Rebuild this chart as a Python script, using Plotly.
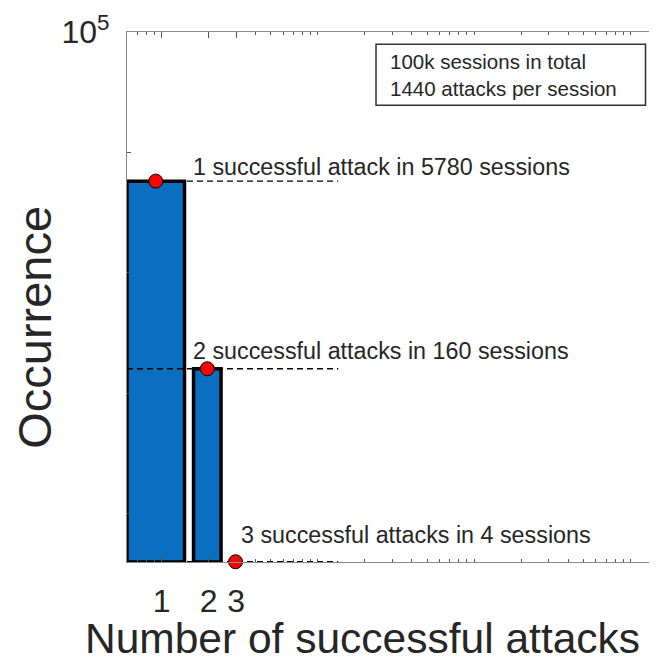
import math
import plotly.graph_objects as go

# ---- data ----
attacks = [1, 2, 3]
sessions = [5780, 160, 4]
labels = [
    "1 successful attack in 5780 sessions",
    "2 successful attacks in 160 sessions",
    "3 successful attacks in 4 sessions",
]
x_tick_vals = [1, 2, 3]
x_tick_text = ["1", "2", "3"]
y_tick_vals = [1e5]
y_tick_text = ["10<sup>5</sup>"]
y_minor_vals = [1e1, 1e2, 1e3, 1e4]
info_lines = ["100k sessions in total", "1440 attacks per session"]
x_title = "Number of successful attacks"
y_title = "Occurrence"

# ---- styling / layout constants ----
X_MIN, X_MAX = 0.6, 1440
LOG_Y_MIN, LOG_Y_MAX = 0.6, 5.0
Y_BOTTOM = 10 ** LOG_Y_MIN
HALF = 0.4
DASH_END = 13.5
label_x = [1.55, 1.55, 3.15]
label_shift = [-1, 3, 12]
FONT = "Liberation Sans, Arial, sans-serif"
TXT = "#262626"
BLUE = "#0b6fc1"

fig = go.Figure()

for n, v in zip(attacks, sessions):
    if v <= Y_BOTTOM * 1.01:
        continue
    fig.add_trace(go.Scatter(
        x=[n - HALF, n - HALF, n + HALF, n + HALF, n - HALF],
        y=[Y_BOTTOM, v, v, Y_BOTTOM, Y_BOTTOM],
        mode="lines", fill="toself", fillcolor=BLUE,
        line=dict(color="black", width=3.5), hoverinfo="skip", showlegend=False,
    ))

for n, v in zip(attacks, sessions):
    fig.add_trace(go.Scatter(
        x=[X_MIN, DASH_END], y=[v, v], mode="lines",
        line=dict(color="black", width=1.4, dash="6px,4px"),
        hoverinfo="skip", showlegend=False,
    ))

dot_x = [math.sqrt((n - HALF) * (n + HALF)) for n in attacks]
fig.add_trace(go.Scatter(
    x=dot_x, y=sessions, mode="markers", cliponaxis=False,
    marker=dict(size=14, color="#ff0000", line=dict(color="black", width=1)),
    showlegend=False,
))

for lx, v, t, s in zip(label_x, sessions, labels, label_shift):
    fig.add_annotation(x=math.log10(lx), y=math.log10(v), xref="x", yref="y",
                       text=t, showarrow=False, xanchor="left", yanchor="bottom",
                       yshift=s, font=dict(size=23.3, color=TXT, family=FONT))

# info box
fig.add_shape(type="rect", xref="paper", yref="paper",
              x0=0.4716, x1=0.982, y0=0.862, y1=0.977,
              line=dict(color="#333333", width=1.5), fillcolor="white")
fig.add_annotation(xref="paper", yref="paper", x=0.494, y=0.918,
                   text="<br>".join(info_lines), showarrow=False,
                   xanchor="left", yanchor="middle", align="left",
                   font=dict(size=20.5, color=TXT, family=FONT))

# axis titles
fig.add_annotation(xref="paper", yref="paper", x=-0.175, y=0.443,
                   text=y_title, textangle=-90, showarrow=False,
                   xanchor="center", yanchor="middle",
                   font=dict(size=47, color=TXT, family=FONT))
fig.add_annotation(xref="paper", yref="paper", x=0.446, y=-0.145,
                   text=x_title, showarrow=False,
                   xanchor="center", yanchor="middle",
                   font=dict(size=42.5, color=TXT, family=FONT))

minor_x = [0.7, 0.8, 0.9] + [k for k in range(4, 10)] + [10 * k for k in range(1, 10)] + [100 * k for k in range(1, 11)]

fig.update_xaxes(
    type="log", range=[math.log10(X_MIN), math.log10(X_MAX)],
    tickmode="array", tickvals=x_tick_vals, ticktext=x_tick_text,
    ticks="inside", ticklen=6, tickcolor="#555555", tickwidth=1,
    minor=dict(tickmode="array", tickvals=minor_x, ticks="inside", ticklen=3,
               tickcolor="#555555", showgrid=False),
    showline=True, linecolor="#8a8a8a", linewidth=1.2, mirror="ticks",
    showgrid=False, zeroline=False, ticklabelstandoff=10, automargin=False,
    tickfont=dict(size=32, color=TXT, family=FONT),
)
fig.update_yaxes(
    type="log", range=[LOG_Y_MIN, LOG_Y_MAX],
    tickmode="array", tickvals=y_tick_vals, ticktext=y_tick_text,
    ticks="inside", ticklen=4, tickcolor="#555555", tickwidth=1,
    minor=dict(tickmode="array", tickvals=y_minor_vals, ticks="inside", ticklen=4,
               tickcolor="#555555", showgrid=False),
    showline=True, linecolor="#8a8a8a", linewidth=1.2, mirror="ticks",
    showgrid=False, zeroline=False, ticklabelstandoff=10, automargin=False,
    tickfont=dict(size=32, color=TXT, family=FONT),
)

fig.update_layout(
    width=649, height=656,
    margin=dict(l=119, r=2, t=24, b=102, autoexpand=False),
    plot_bgcolor="white", paper_bgcolor="white",
    showlegend=False,
)

fig.write_html("out.html")
